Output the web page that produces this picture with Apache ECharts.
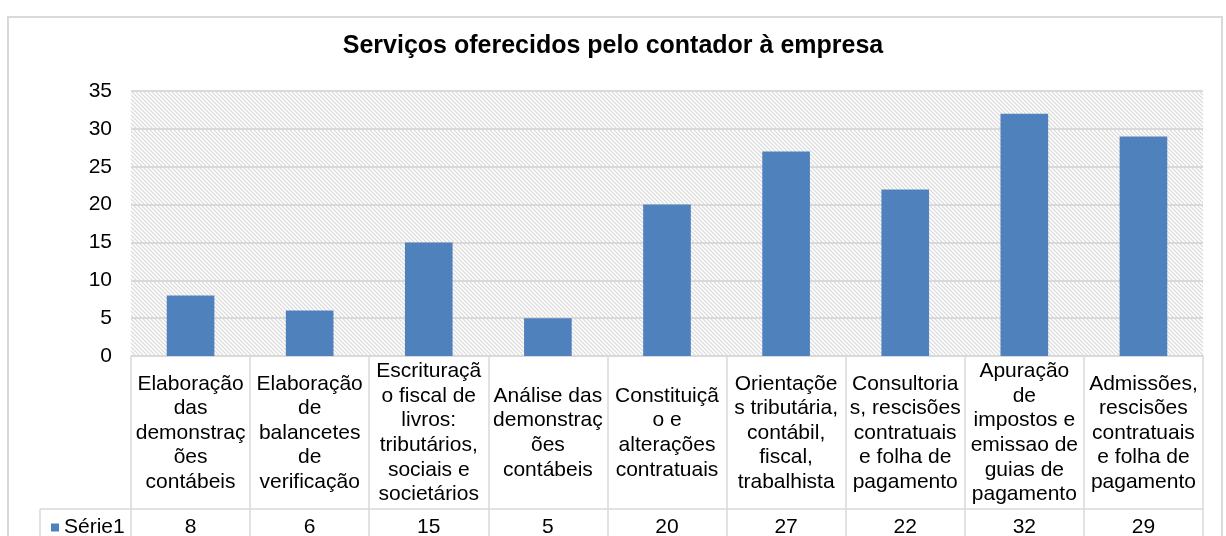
<!DOCTYPE html>
<html>
<head>
<meta charset="utf-8">
<script src="https://cdn.jsdelivr.net/npm/echarts@6/dist/echarts.min.js"></script>
<style>
html,body{margin:0;padding:0;background:#fff;}
#c{width:1226px;height:536px;}
</style>
</head>
<body>
<div id="c"></div>
<script>
var titleText = 'Serviços oferecidos pelo contador à empresa';
var seriesName = 'Série1';
var categories = [
  'Elaboração\ndas\ndemonstraç\nões\ncontábeis',
  'Elaboração\nde\nbalancetes\nde\nverificação',
  'Escrituraçã\no fiscal de\nlivros:\ntributários,\nsociais e\nsocietários',
  'Análise das\ndemonstraç\nões\ncontábeis',
  'Constituiçã\no e\nalterações\ncontratuais',
  'Orientaçõe\ns tributária,\ncontábil,\nfiscal,\ntrabalhista',
  'Consultoria\ns, rescisões\ncontratuais\ne folha de\npagamento',
  'Apuração\nde\nimpostos e\nemissao de\nguias de\npagamento',
  'Admissões,\nrescisões\ncontratuais\ne folha de\npagamento'
];
var values = [8, 6, 15, 5, 20, 27, 22, 32, 29];
var yTicks = {min: 0, max: 35, interval: 5};

var FONT = '"Liberation Sans", Arial, sans-serif';
var GRID_COLOR = '#d9d9d9';
var TABLE_COLOR = '#d9d9d9';

// hatch pattern for plot background
var pc = document.createElement('canvas');
pc.width = 4; pc.height = 4;
var pctx = pc.getContext('2d');
var img = pctx.createImageData(4, 4);
for (var y = 0; y < 4; y++) {
  for (var x = 0; x < 4; x++) {
    var d = ((x - y) % 4 + 4) % 4;
    var v = d === 0 ? 218 : (d === 1 || d === 3 ? 242 : 255);
    var i = (y * 4 + x) * 4;
    img.data[i] = v; img.data[i+1] = v; img.data[i+2] = v; img.data[i+3] = 255;
  }
}
pctx.putImageData(img, 0, 0);

var chart = echarts.init(document.getElementById('c'), null, {renderer: 'canvas'});
chart.setOption({
  backgroundColor: '#fff',
  animation: false,
  textStyle: {fontFamily: FONT},
  title: {
    text: titleText,
    left: 'center',
    top: 29,
    textStyle: {fontFamily: FONT, fontSize: 25, fontWeight: 'bold', color: '#000'}
  },
  legend: {
    data: [seriesName],
    left: 46,
    top: 512,
    icon: 'rect',
    itemWidth: 8,
    itemHeight: 8,
    textStyle: {fontFamily: FONT, fontSize: 21, color: '#000'}
  },
  grid: {
    left: 131, right: 23, top: 91, bottom: 180,
    containLabel: false,
    outerBoundsMode: 'none',
    show: true,
    borderWidth: 0,
    backgroundColor: {image: pc, repeat: 'repeat'}
  },
  xAxis: [{
    type: 'category',
    data: categories,
    position: 'bottom',
    axisLine: {show: true, lineStyle: {color: TABLE_COLOR, width: 1.5}},
    axisTick: {show: true, interval: 0, length: 182, lineStyle: {color: TABLE_COLOR, width: 1.5}},
    axisLabel: {
      interval: 0, fontFamily: FONT, fontSize: 21, lineHeight: 24.6, color: '#000',
      verticalAlign: 'middle', align: 'center', margin: 77
    },
    splitLine: {show: false}
  }, {
    type: 'category',
    data: values.map(String),
    position: 'bottom',
    offset: 153,
    axisLine: {show: true, lineStyle: {color: TABLE_COLOR, width: 1.5}},
    axisTick: {show: false},
    axisLabel: {
      interval: 0, fontFamily: FONT, fontSize: 21, color: '#000',
      verticalAlign: 'middle', align: 'center', margin: 18
    },
    splitLine: {show: false}
  }],
  yAxis: {
    type: 'value',
    min: yTicks.min, max: yTicks.max, interval: yTicks.interval,
    axisLine: {show: false},
    axisTick: {show: false},
    axisLabel: {fontFamily: FONT, fontSize: 21, color: '#000', margin: 19},
    splitLine: {show: true, lineStyle: {color: GRID_COLOR, width: 2}}
  },
  series: [{
    name: seriesName,
    type: 'bar',
    xAxisIndex: 0,
    data: values,
    barWidth: '40%',
    itemStyle: {color: '#4F81BD'}
  }],
  graphic: [
    {type: 'rect', silent: true, z: 100,
     shape: {x: 8, y: 17, width: 1214, height: 540},
     style: {fill: null, stroke: '#d9d9d9', lineWidth: 2}},
    {type: 'line', silent: true, z: 100,
     shape: {x1: 40, y1: 509, x2: 131, y2: 509},
     style: {stroke: TABLE_COLOR, lineWidth: 1.5}},
    {type: 'line', silent: true, z: 100,
     shape: {x1: 40, y1: 509, x2: 40, y2: 540},
     style: {stroke: TABLE_COLOR, lineWidth: 1.5}}
  ]
});
</script>
</body>
</html>
